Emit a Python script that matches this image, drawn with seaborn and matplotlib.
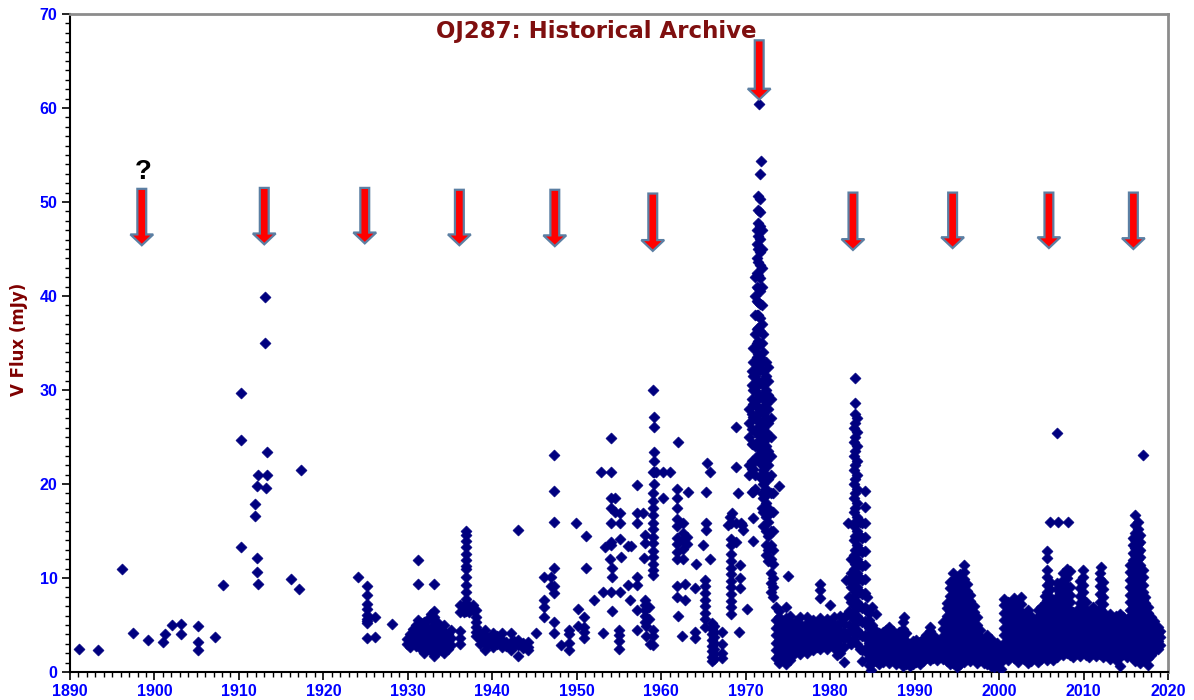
import matplotlib
matplotlib.use("Agg")
import matplotlib.pyplot as plt
import matplotlib.patches as mpatches
from matplotlib.ticker import MultipleLocator
import seaborn as sns
import pandas as pd

# ---------------- data ----------------
# early photographic plates: individual points
early_x = [1891.1, 1893.3, 1896.2, 1897.4, 1899.2, 1901.0, 1901.2, 1902.1, 1903.1, 1903.1,
           1905.1, 1905.1, 1905.1, 1907.2, 1908.1, 1910.2, 1910.2, 1910.2, 1911.9, 1911.9,
           1912.1, 1912.1, 1912.1, 1912.3, 1912.3, 1913.3, 1913.3, 1913.2, 1913.1, 1913.1,
           1916.2, 1917.1, 1917.3, 1924.1, 1925.2, 1925.2, 1925.2, 1925.2, 1925.2, 1925.2,
           1925.2, 1925.2, 1925.2, 1926.1, 1926.1, 1928.1]
early_y = [2.5, 2.3, 11.0, 4.1, 3.4, 3.2, 4.0, 5.0, 5.1, 4.0,
           4.9, 3.2, 2.3, 3.7, 9.3, 29.7, 24.7, 13.3, 17.9, 16.6,
           19.8, 12.1, 10.6, 21.0, 9.4, 23.4, 21.0, 19.6, 39.9, 35.0,
           9.9, 8.8, 21.5, 10.1, 9.1, 8.2, 7.2, 6.7, 6.1, 5.6,
           5.2, 5.4, 3.6, 5.8, 3.7, 5.1]

# 1930-1950: (year, [fluxes])
cols_1930_1950 = [
    (1929.9, [3.0, 3.5]), (1930.2, [2.7, 3.4, 4.0]), (1930.6, [3.2, 3.9, 4.6]),
    (1931.0, [2.8, 3.6, 4.3, 5.0]), (1931.2, [9.4, 11.9, 5.5, 4.6, 3.3]),
    (1931.5, [2.4, 3.1, 3.8, 4.5, 5.2]), (1931.9, [2.0, 2.9, 3.7, 4.4, 5.3]),
    (1932.3, [2.4, 3.2, 4.0, 4.8, 5.5]), (1932.7, [2.2, 3.0, 3.8, 4.6, 5.6, 6.2]),
    (1933.1, [1.7, 2.6, 3.4, 4.2, 5.0, 5.8, 6.5, 9.4]), (1933.5, [2.1, 2.9, 3.7, 4.5, 5.3]),
    (1933.9, [2.3, 3.1, 3.9, 4.6]), (1934.3, [2.0, 2.8, 3.6, 4.3, 5.0]),
    (1934.7, [2.5, 3.3, 4.0]), (1935.1, [2.9, 3.6, 4.5]),
    (1936.2, [3.0, 3.6, 4.4, 6.4, 7.1]), (1936.6, [6.4, 7.1, 6.8]),
    (1936.9, [15.0, 14.6, 13.9, 13.3, 12.6, 11.9, 11.3, 11.0, 10.1, 9.3, 8.5, 7.8, 7.1, 6.5]),
    (1937.2, [6.4, 7.0, 6.6]), (1937.7, [6.6, 7.1]),
    (1938.1, [6.6, 5.9, 5.3, 4.8, 4.3, 3.8]), (1938.5, [3.5, 4.2, 3.0]),
    (1939.1, [4.5, 3.8, 3.1, 2.3]), (1939.5, [3.0, 3.6]),
    (1940.1, [4.1, 3.6, 3.2, 2.7]), (1940.5, [3.0, 3.8]),
    (1941.1, [4.1, 3.4, 2.7]), (1941.6, [3.2, 2.8]),
    (1942.2, [4.2, 3.2, 2.3, 2.8]), (1942.6, [2.8, 3.3]),
    (1943.1, [15.1, 3.4, 2.9, 1.7]), (1943.6, [2.6, 3.1]),
    (1944.2, [3.2, 2.3, 2.7]), (1945.2, [4.1]),
    (1946.1, [10.1, 7.7, 6.9, 5.9]), (1947.0, [10.1, 9.2]),
    (1947.3, [23.1, 19.3, 16.0, 11.1, 9.2, 8.4, 5.3, 4.1]),
    (1948.1, [2.9]), (1949.1, [4.5, 4.0, 3.1, 2.3]),
    (1949.9, [15.9]), (1950.1, [6.7, 4.9]),
]

# 1950-1970
cols_1950_1970 = [
    (1950.9, [5.9, 4.8, 4.3, 3.6]), (1951.1, [14.5, 11.1]), (1952.0, [7.7]),
    (1952.9, [21.3]), (1953.1, [8.5, 4.2]), (1953.3, [13.3]), (1953.9, [12.0]),
    (1954.0, [24.9, 21.3, 18.5, 17.4, 15.8, 13.8, 13.5, 8.5]),
    (1954.2, [11.1, 10.1, 6.5]), (1954.5, [18.5, 17.0]),
    (1955.0, [4.5, 3.9, 3.3, 2.5]), (1955.1, [16.9, 15.8, 14.1, 8.5]), (1955.2, [12.2]),
    (1956.1, [13.4, 9.3]), (1956.3, [7.7]), (1956.4, [13.4]),
    (1957.1, [19.9, 16.9, 15.8, 10.1, 9.3, 6.6, 4.5]), (1957.9, [16.9]), (1958.0, [12.1]),
    (1958.1, [14.6, 13.7, 7.7, 7.1, 6.6, 6.0, 5.3]), (1958.2, [3.8, 4.9]),
    (1958.5, [6.9, 5.6]), (1958.7, [3.0]),
    (1959.0, [30.0, 21.3, 19.0, 18.2, 17.4, 16.7, 15.9, 15.2, 14.4, 13.7, 12.9, 12.2,
              11.5, 10.8, 10.3, 4.5, 3.8, 2.9]),
    (1959.1, [27.1, 26.1, 23.4, 22.5, 21.3, 20.0]), (1959.4, [21.3]),
    (1960.2, [21.3, 18.5]), (1961.0, [21.3]),
    (1961.9, [19.5, 18.5, 17.4, 16.3, 15.5, 14.3, 13.6, 12.8, 12.0, 9.1, 8.0]),
    (1962.0, [24.5, 6.0]), (1962.4, [3.8]),
    (1962.6, [15.8, 14.8, 14.0, 13.1, 12.0]), (1962.8, [9.4, 7.7]),
    (1963.0, [14.4, 13.6]), (1963.2, [19.2]),
    (1964.0, [8.9, 4.3, 3.6]), (1964.1, [11.5]), (1964.9, [13.5]),
    (1965.2, [9.8, 9.1, 8.4, 7.7, 7.0, 6.3, 5.6, 4.8]),
    (1965.3, [19.1, 15.8, 15.1]), (1965.4, [22.2]), (1965.8, [21.3, 12.0]),
    (1966.0, [5.2, 4.6, 4.0, 3.4, 2.8, 2.2, 1.6, 1.2]),
    (1966.3, [4.9, 4.3, 3.7, 3.1, 2.5, 1.9, 1.4]),
    (1967.2, [4.3, 3.0, 2.0, 1.5]),
    (1967.9, [15.6]), (1968.1, [16.5]),
    (1968.3, [15.9, 14.2, 13.5, 12.6, 11.8, 11.1, 10.4, 9.7, 9.0, 8.3, 7.6, 6.9, 6.2]),
    (1968.4, [16.9]), (1968.8, [26.1, 21.8, 13.8, 15.9]), (1969.1, [19.0]),
    (1969.2, [4.3]), (1969.3, [11.4, 10.0, 8.9]), (1969.5, [15.9]),
    (1969.6, [15.6]), (1969.7, [15.1]), (1970.1, [6.7]),
]

# 1971-1973 great outburst
cols_1971 = [
    (1970.4, [28.0, 26.5, 25.0, 22.0, 21.0]),
    (1970.7, [32.0, 30.5, 29.0, 27.5, 25.9, 24.3, 22.4, 21.6, 19.2]),
    (1970.9, [34.5, 33.0, 31.5, 30.0, 28.5, 27.1, 24.3, 22.4, 21.6, 19.2, 16.4, 13.9]),
    (1971.1, [42.0, 40.0, 38.0, 36.0, 34.5, 33.0, 31.5, 30.0, 28.5, 27.0, 25.5, 24.0,
              22.5, 21.0, 19.5]),
    (1971.3, [47.0, 45.5, 44.0, 42.5, 41.0, 39.5, 38.0, 36.5, 35.0, 33.5, 32.0, 30.5,
              29.0, 27.5, 26.0, 24.5, 23.0]),
    (1971.5, [50.6, 49.2, 47.8, 46.4, 45.0, 43.6, 42.2, 40.8, 39.4, 38.0, 36.6, 35.2,
              33.8, 32.4, 31.0, 29.6, 28.2, 26.8, 25.4, 24.0]),
    (1971.6, [60.4]),
    (1971.7, [53.0, 50.3, 48.9, 47.5, 46.1, 44.7, 43.3, 41.9, 40.5, 39.1, 37.7, 36.3,
              34.9, 33.5, 32.1, 30.7, 29.3, 27.9, 26.5, 25.1, 23.7, 22.3, 20.9]),
    (1971.8, [54.4]),
    (1971.9, [47.0, 45.0, 43.0, 41.0, 39.0, 37.0, 35.0, 33.0, 31.0, 29.5, 28.0, 26.5,
              25.0, 23.5, 22.0, 20.5, 19.0, 17.5]),
    (1972.1, [36.0, 34.0, 32.0, 30.5, 29.0, 27.5, 26.0, 24.5, 23.0, 21.5, 20.0, 18.5,
              17.0, 15.5]),
    (1972.4, [33.0, 31.5, 30.0, 28.5, 27.0, 25.5, 24.0, 22.5, 21.0, 19.5, 18.0, 16.5,
              15.0, 13.5, 12.5]),
    (1972.7, [32.5, 31.0, 29.5, 28.0, 26.5, 25.0, 23.5, 22.0, 20.5, 19.0, 17.5, 16.0,
              14.5, 13.0, 11.8]),
    (1973.0, [29.0, 27.0, 25.0, 23.0, 21.0, 19.0, 17.0, 15.0, 13.5, 12.0, 10.5, 9.5, 8.5]),
    (1973.2, [19.0, 17.0, 15.0, 13.0, 11.5, 10.0, 9.0, 8.0]),
    (1973.9, [19.8]),
]

# 1973-1982 quiescent
cols_1973_1982 = [
    (1973.6, [1.5, 2.3, 3.1, 3.9, 4.7, 5.5, 6.9]),
    (1974.0, [1.0, 1.8, 2.6, 3.4, 4.2, 5.0, 5.8, 6.5]),
    (1974.4, [1.4, 2.2, 3.0, 3.8, 4.6, 5.4]),
    (1974.8, [0.9, 1.7, 2.5, 3.3, 4.1, 4.9, 5.7, 6.9]),
    (1975.0, [10.2]),
    (1975.2, [1.3, 2.1, 2.9, 3.7, 4.5, 5.3, 6.0]),
    (1975.6, [1.8, 2.6, 3.4, 4.2, 5.0]),
    (1976.0, [2.2, 3.0, 3.8, 4.6, 5.4]),
    (1976.4, [1.9, 2.7, 3.5, 4.3, 5.1, 5.9]),
    (1976.8, [2.4, 3.2, 4.0, 4.8]),
    (1977.2, [2.0, 2.8, 3.6, 4.4, 5.2, 5.8]),
    (1977.6, [2.6, 3.4, 4.2, 5.0]),
    (1978.0, [2.3, 3.1, 3.9, 4.7, 5.5]),
    (1978.4, [2.7, 3.5, 4.3, 5.1]),
    (1978.8, [2.5, 3.3, 4.1, 4.9, 5.7, 7.9, 8.7, 9.4]),
    (1979.2, [2.8, 3.6, 4.4, 5.2]),
    (1979.6, [2.4, 3.2, 4.0, 4.8, 5.6]),
    (1980.0, [2.9, 3.7, 4.5, 5.3, 7.1]),
    (1980.4, [2.6, 3.4, 4.2, 5.0, 5.8]),
    (1980.8, [1.8, 2.6, 3.4, 4.2, 5.0]),
    (1981.2, [2.0, 2.8, 3.6, 4.4, 5.2, 6.0]),
    (1981.6, [1.1, 2.7, 3.5, 4.3, 5.1, 5.9]),
]

# 1982-1985 outburst
cols_1983 = [
    (1981.9, [9.8, 6.0, 4.0]),
    (1982.1, [15.9]),
    (1982.2, [9.8, 8.0, 6.5, 5.0, 3.5]),
    (1982.5, [12.0, 10.5, 9.0, 7.5, 6.0, 4.5, 3.0]),
    (1982.8, [26.0, 24.5, 23.0, 21.5, 20.0, 18.5, 17.0, 15.5, 14.0, 12.5, 11.0, 9.5,
              8.0, 6.5, 5.0, 3.5]),
    (1983.0, [31.3, 28.6, 27.5, 26.5, 25.0, 23.5, 22.0, 20.5, 19.0, 17.5, 16.0, 14.5,
              13.0, 11.5, 10.0, 8.5, 7.0, 5.5, 4.0]),
    (1983.2, [27.0, 25.5, 24.0, 22.5, 21.0, 19.5, 18.0, 16.5, 15.0, 13.5, 12.0, 10.5,
              9.0, 7.5, 6.0, 4.5, 3.0]),
    (1983.5, [16.0, 14.5, 13.0, 11.5, 10.0, 8.5, 7.0, 5.5, 4.0, 2.5]),
    (1983.8, [15.8, 14.3, 12.8, 11.3, 9.8, 8.3, 6.8, 5.3, 3.8, 2.3, 1.2]),
    (1984.1, [19.3, 17.6, 15.9, 14.4, 12.9, 11.4, 9.9, 8.4, 6.9, 5.4, 3.9, 2.4]),
    (1984.4, [8.0, 6.5, 5.0, 3.5, 2.0]),
    (1984.8, [0.2]),
]

# 1984-2019 modern monitoring
cols_modern = [
    (1984.6, [0.7, 1.5, 2.3, 3.1, 3.9, 4.7, 5.5, 6.3]),
    (1985.0, [1.0, 1.8, 2.6, 3.4, 4.2, 5.0, 6.9]),
    (1985.4, [1.2, 2.0, 2.8, 3.6, 4.4, 6.2]),
    (1985.8, [0.9, 1.7, 2.5, 3.3, 4.1]),
    (1986.2, [1.1, 1.9, 2.7, 3.5, 4.3]),
    (1986.6, [1.4, 2.2, 3.0, 3.8, 4.5]),
    (1987.0, [1.0, 1.8, 2.6, 3.4, 4.2, 4.8]),
    (1987.4, [1.3, 2.1, 2.9, 3.7, 4.4]),
    (1987.8, [0.8, 1.6, 2.4, 3.2, 4.0]),
    (1988.2, [1.1, 1.9, 2.7, 3.5, 4.3]),
    (1988.6, [0.6, 1.4, 2.2, 3.0, 3.8, 4.6, 5.3]),
    (1988.8, [5.9]),
    (1989.0, [0.9, 1.7, 2.5, 3.3, 4.1]),
    (1989.4, [0.6, 1.4, 2.2, 3.0]),
    (1989.8, [0.9, 1.7, 2.5, 3.3]),
    (1990.2, [1.1, 1.9, 2.7, 3.4]),
    (1990.6, [0.8, 1.6, 2.4, 3.2]),
    (1991.0, [1.2, 2.0, 2.8, 3.5]),
    (1991.4, [1.5, 2.3, 3.1, 3.9]),
    (1991.8, [1.3, 2.1, 2.9, 3.7, 4.4, 4.8]),
    (1992.2, [1.5, 2.3, 3.1, 3.9]),
    (1992.6, [1.3, 2.1, 2.9, 3.4]),
    (1993.0, [1.6, 2.4, 3.2]),
    (1993.4, [1.4, 2.2, 3.0, 3.8, 4.6, 5.3]),
    (1993.8, [1.2, 2.0, 2.8, 3.6, 4.4, 5.2, 6.0, 6.8, 7.3]),
    (1994.2, [0.9, 1.7, 2.5, 3.3, 4.1, 4.9, 5.7, 6.5, 7.3, 8.1, 8.9, 9.6]),
    (1994.6, [1.0, 1.8, 2.6, 3.4, 4.2, 5.0, 5.8, 6.6, 7.4, 8.2, 9.0, 9.8, 10.5]),
    (1995.0, [0.5, 1.3, 2.1, 2.9, 3.7, 4.5, 5.3, 6.1, 6.9, 7.7, 8.5, 9.3, 10.1]),
    (1995.4, [0.8, 1.6, 2.4, 3.2, 4.0, 4.8, 5.6, 6.4, 7.2, 8.0, 8.8, 9.6, 10.4]),
    (1995.8, [1.1, 1.9, 2.7, 3.5, 4.3, 5.1, 5.9, 6.7, 7.5, 8.3, 9.1, 9.9, 10.6, 11.4]),
    (1996.2, [1.4, 2.2, 3.0, 3.8, 4.6, 5.4, 6.2, 7.0, 7.8, 8.6, 9.4]),
    (1996.6, [1.2, 2.0, 2.8, 3.6, 4.4, 5.2, 6.0, 6.8, 7.6, 8.2]),
    (1997.0, [1.6, 2.4, 3.2, 4.0, 4.8, 5.6, 6.4, 7.0]),
    (1997.4, [1.0, 1.8, 2.6, 3.4, 4.2, 5.0, 5.8]),
    (1997.8, [1.3, 2.1, 2.9, 3.7, 4.5]),
    (1998.2, [1.0, 1.8, 2.6, 3.4]),
    (1998.6, [0.8, 1.6, 2.4, 3.2, 3.9]),
    (1999.0, [0.6, 1.4, 2.2, 3.0, 3.5]),
    (1999.4, [0.5, 1.3, 2.1, 2.9]),
    (1999.8, [0.8, 1.6, 2.4, 3.1]),
    (2000.2, [0.3, 1.1, 1.9, 2.7]),
    (2000.6, [1.5, 2.3, 3.1, 3.9, 4.7, 5.5, 6.3, 7.1, 7.8]),
    (2001.0, [1.3, 2.1, 2.9, 3.7, 4.5, 5.3, 6.1, 6.9, 7.5]),
    (2001.4, [1.8, 2.6, 3.4, 4.2, 5.0, 5.8, 6.6]),
    (2001.8, [1.5, 2.3, 3.1, 3.9, 4.7, 5.5, 6.3, 7.1, 7.9]),
    (2002.2, [1.1, 1.9, 2.7, 3.5, 4.3, 5.1, 5.9, 6.7, 7.4]),
    (2002.6, [1.6, 2.4, 3.2, 4.0, 4.8, 5.6, 6.4, 7.2, 8.0]),
    (2003.0, [1.4, 2.2, 3.0, 3.8, 4.6, 5.4, 6.2]),
    (2003.4, [1.0, 1.8, 2.6, 3.4, 4.2, 5.0, 5.8, 6.6]),
    (2003.8, [1.2, 2.0, 2.8, 3.6, 4.4, 5.2, 6.0]),
    (2004.2, [1.5, 2.3, 3.1, 3.9, 4.7, 5.5]),
    (2004.6, [1.1, 1.9, 2.7, 3.5, 4.3, 5.1, 5.9, 6.6]),
    (2005.0, [1.4, 2.2, 3.0, 3.8, 4.6, 5.4, 6.2, 6.9]),
    (2005.4, [1.7, 2.5, 3.3, 4.1, 4.9, 5.7, 6.5, 7.3, 8.1]),
    (2005.7, [1.3, 2.1, 2.9, 3.7, 4.5, 5.3, 6.1, 6.9, 7.7, 8.5, 9.3, 10.1, 10.8, 12.1, 12.9]),
    (2006.0, [1.6, 2.4, 3.2, 4.0, 4.8, 5.6, 6.4, 7.2, 8.0, 8.8, 9.6, 16.0]),
    (2006.4, [1.3, 2.1, 2.9, 3.7, 4.5, 5.3, 6.1, 6.9, 7.7]),
    (2006.8, [1.6, 2.4, 3.2, 4.0, 4.8, 5.6, 6.4, 7.2, 8.0, 8.8, 9.5]),
    (2006.9, [25.4]),
    (2007.0, [16.0]),
    (2007.2, [2.0, 2.8, 3.6, 4.4, 5.2, 6.0, 6.8, 7.6, 8.4, 9.2]),
    (2007.6, [1.8, 2.6, 3.4, 4.2, 5.0, 5.8, 6.6, 7.4, 8.2, 9.0, 9.8, 10.5]),
    (2008.0, [2.0, 2.8, 3.6, 4.4, 5.2, 6.0, 6.8, 7.6, 8.4, 9.2, 10.0, 11.0]),
    (2008.2, [16.0]),
    (2008.4, [1.8, 2.6, 3.4, 4.2, 5.0, 5.8, 6.6, 7.4, 8.2, 9.0, 10.7]),
    (2008.8, [1.6, 2.4, 3.2, 4.0, 4.8, 5.6, 6.4]),
    (2009.2, [2.0, 2.8, 3.6, 4.4, 5.2, 6.0, 6.6]),
    (2009.6, [1.7, 2.5, 3.3, 4.1, 4.9, 5.7, 6.5, 7.3, 8.1, 8.9, 9.7]),
    (2009.9, [2.1, 2.9, 3.7, 4.5, 5.3, 6.1, 6.9, 7.7, 8.5, 9.3, 10.1, 10.9]),
    (2010.3, [1.8, 2.6, 3.4, 4.2, 5.0, 5.8, 6.6, 7.4]),
    (2010.7, [1.6, 2.4, 3.2, 4.0, 4.8, 5.6, 6.4]),
    (2011.1, [2.0, 2.8, 3.6, 4.4, 5.2, 6.0, 6.9]),
    (2011.5, [1.7, 2.5, 3.3, 4.1, 4.9, 5.7, 6.4]),
    (2011.9, [1.9, 2.7, 3.5, 4.3, 5.1, 5.9, 6.7, 7.5, 8.3, 9.1, 9.9, 10.5]),
    (2012.1, [11.2]),
    (2012.3, [1.6, 2.4, 3.2, 4.0, 4.8, 5.6, 6.4, 7.2, 8.0, 8.8, 9.6]),
    (2012.7, [1.8, 2.6, 3.4, 4.2, 5.0, 5.8]),
    (2013.1, [1.4, 2.2, 3.0, 3.8, 4.6, 5.4, 6.2]),
    (2013.5, [1.7, 2.5, 3.3, 4.1, 4.9, 5.6]),
    (2013.9, [1.3, 2.1, 2.9, 3.7, 4.5, 5.3, 6.0]),
    (2014.3, [0.6, 1.6, 2.4, 3.2, 4.0, 4.8, 5.6, 6.2]),
    (2014.7, [1.9, 2.7, 3.5, 4.3, 5.1, 5.8]),
    (2015.1, [1.6, 2.4, 3.2, 4.0, 4.8, 5.6]),
    (2015.5, [1.8, 2.6, 3.4, 4.2, 5.0, 5.8, 6.6, 7.4, 8.2, 9.0, 9.8, 10.6, 11.4]),
    (2015.8, [1.5, 2.3, 3.1, 3.9, 4.7, 5.5, 6.3, 7.1, 7.9, 8.7, 9.5, 10.3, 11.1, 11.9,
              12.7, 13.5, 14.3]),
    (2016.1, [1.2, 2.0, 2.8, 3.6, 4.4, 5.2, 6.0, 6.8, 7.6, 8.4, 9.2, 10.0, 10.8, 11.6,
              12.4, 13.2, 14.0, 14.8, 15.6, 16.7]),
    (2016.4, [1.6, 2.4, 3.2, 4.0, 4.8, 5.6, 6.4, 7.2, 8.0, 8.8, 9.6, 10.4, 11.2, 12.0,
              12.8, 13.6, 14.4, 15.2, 16.0]),
    (2016.7, [1.0, 1.8, 2.6, 3.4, 4.2, 5.0, 5.8, 6.6, 7.4, 8.2, 9.0, 9.8, 10.6, 11.4,
              12.2, 13.0, 13.8, 14.6]),
    (2017.0, [1.3, 2.1, 2.9, 3.7, 4.5, 5.3, 6.1, 6.9, 7.7, 8.5, 9.3, 10.1, 10.9, 23.1]),
    (2017.3, [1.7, 2.5, 3.3, 4.1, 4.9, 5.7, 6.5, 7.3, 8.0]),
    (2017.6, [0.7, 1.5, 2.3, 3.1, 3.9, 4.7, 5.5, 6.3, 6.9]),
    (2018.0, [1.8, 2.6, 3.4, 4.2, 5.0, 5.8]),
    (2018.4, [2.2, 3.0, 3.8, 4.6, 5.4]),
    (2018.8, [2.5, 3.3, 4.1, 4.8]),
    (2019.1, [2.9, 3.7, 4.4]),
]

# predicted outburst markers (arrows)
arrow_years = [1898.5, 1913.0, 1924.9, 1936.1, 1947.4, 1959.0, 1971.6, 1982.7, 1994.5, 2005.9, 2015.9]
arrow_top = [51.4, 51.5, 51.5, 51.3, 51.3, 50.9, 67.2, 51.0, 51.0, 51.0, 51.0]
arrow_tip = [45.4, 45.5, 45.6, 45.4, 45.3, 44.8, 60.9, 44.9, 45.1, 45.1, 45.0]

title_text = "OJ287: Historical Archive"
ylabel_text = "V Flux (mJy)"
x_ticks = list(range(1890, 2021, 10))
y_ticks = list(range(0, 71, 10))

# ---------------- build table ----------------
xs, ys = list(early_x), list(early_y)
for group in (cols_1930_1950, cols_1950_1970, cols_1971, cols_1973_1982, cols_1983, cols_modern):
    for yr, vals in group:
        for v in vals:
            xs.append(yr)
            ys.append(v)
df = pd.DataFrame({"year": xs, "flux": ys})

# ---------------- plot ----------------
sns.set_style("white")
plt.rcParams["font.family"] = ["Liberation Sans", "DejaVu Sans"]

fig = plt.figure(figsize=(11.94, 7.0), dpi=100)
ax = fig.add_axes([70 / 1194, 28 / 700, 1098 / 1194, 658 / 700])

navy = "#00007F"
sns.scatterplot(data=df, x="year", y="flux", marker="D", s=32, color=navy,
                edgecolor=navy, linewidth=0.4, ax=ax, zorder=3, legend=False)

ax.set_xlim(1890, 2020)
ax.set_ylim(0, 70)
ax.set_xticks(x_ticks)
ax.set_yticks(y_ticks)
ax.xaxis.set_minor_locator(MultipleLocator(1))
ax.yaxis.set_minor_locator(MultipleLocator(1))
ax.tick_params(axis="both", which="major", direction="out", length=6, width=1.2,
               color="#000000", labelsize=11.5, labelcolor="#0000FF", pad=3)
ax.tick_params(axis="both", which="minor", direction="out", length=3.5, width=1.0,
               color="#000000")
ax.tick_params(axis="x", which="both", bottom=True, top=False)
ax.tick_params(axis="y", which="both", left=True, right=False)
for lab in ax.get_xticklabels() + ax.get_yticklabels():
    lab.set_fontweight("bold")

for side in ("left", "bottom"):
    ax.spines[side].set_color("#000000")
    ax.spines[side].set_linewidth(1.5)
for side in ("top", "right"):
    ax.spines[side].set_color("#8C8C8C")
    ax.spines[side].set_linewidth(2.0)
    ax.spines[side].set_visible(True)

ax.set_xlabel("")
ax.set_ylabel(ylabel_text, fontsize=12, fontweight="bold", color="#7F0000",
              family=["DejaVu Sans"])
ax.yaxis.set_label_coords(-0.038, 0.505)

# arrows
for yr, top, tip in zip(arrow_years, arrow_top, arrow_tip):
    arr = mpatches.FancyArrow(yr, top, 0, tip - top, width=1.05, head_width=2.7,
                              head_length=1.15, length_includes_head=True,
                              facecolor="#FF0000", edgecolor="#5B7FA3", linewidth=1.6,
                              zorder=4)
    ax.add_patch(arr)

ax.text(1898.7, 52.4, "?", ha="center", va="baseline", fontsize=20, fontweight="bold",
        color="#000000", zorder=5)
ax.text(0.479, 0.9635, title_text, transform=ax.transAxes, ha="center", va="baseline",
        fontsize=16.5, fontweight="bold", color="#7F0F0F", zorder=5,
        family=["DejaVu Sans"])

fig.savefig("out.png", dpi=100)
